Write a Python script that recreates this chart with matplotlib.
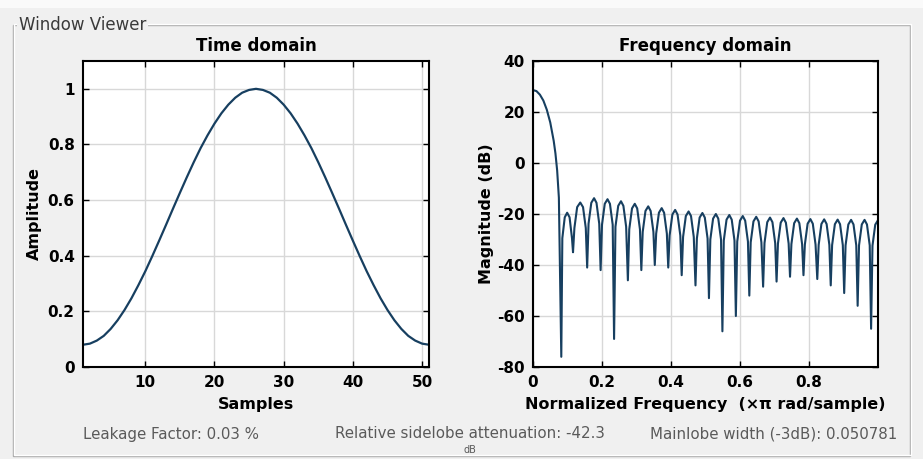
import matplotlib
matplotlib.use("Agg")
import matplotlib.pyplot as plt
from matplotlib.patches import Rectangle

plt.rcParams["axes.unicode_minus"] = False

# time domain: window amplitude per sample
samples = list(range(1, 52))
amplitude = [
    0.080, 0.084, 0.095, 0.112, 0.137, 0.168, 0.205, 0.247, 0.294, 0.344,
    0.398, 0.454, 0.511, 0.569, 0.626, 0.682, 0.736, 0.787, 0.833, 0.875,
    0.912, 0.943, 0.968, 0.986, 0.996, 1.000, 0.996, 0.986, 0.968, 0.943,
    0.912, 0.875, 0.833, 0.787, 0.736, 0.682, 0.626, 0.569, 0.511, 0.454,
    0.398, 0.344, 0.294, 0.247, 0.205, 0.168, 0.137, 0.112, 0.095, 0.084,
    0.080,
]

# frequency domain: main lobe, traced
main_f = [0, 0.01, 0.02, 0.03, 0.04, 0.05, 0.06, 0.065, 0.07, 0.075, 0.082]
main_db = [28.6, 28.2, 26.8, 24.5, 20.9, 15.9, 8.7, 3.8, -2.9, -13.6, -76]

# side lobes, traced one lobe per row (last value of each row is the null)
side_f = [
    0.085, 0.092, 0.099, 0.106, 0.113, 0.116,
    0.120, 0.128, 0.137, 0.145, 0.153, 0.157,
    0.161, 0.169, 0.177, 0.184, 0.192, 0.196,
    0.200, 0.208, 0.216, 0.223, 0.231, 0.235,
    0.239, 0.247, 0.255, 0.262, 0.270, 0.275,
    0.279, 0.287, 0.295, 0.302, 0.310, 0.314,
    0.318, 0.326, 0.334, 0.341, 0.349, 0.353,
    0.357, 0.365, 0.373, 0.380, 0.388, 0.392,
    0.396, 0.404, 0.412, 0.419, 0.427, 0.431,
    0.435, 0.443, 0.451, 0.458, 0.466, 0.471,
    0.475, 0.483, 0.491, 0.498, 0.506, 0.510,
    0.514, 0.522, 0.530, 0.537, 0.545, 0.549,
    0.553, 0.561, 0.569, 0.576, 0.584, 0.588,
    0.592, 0.600, 0.608, 0.615, 0.623, 0.627,
    0.631, 0.639, 0.647, 0.654, 0.662, 0.667,
    0.671, 0.679, 0.687, 0.694, 0.702, 0.706,
    0.710, 0.718, 0.726, 0.733, 0.741, 0.745,
    0.749, 0.757, 0.765, 0.772, 0.780, 0.784,
    0.788, 0.796, 0.804, 0.811, 0.819, 0.824,
    0.828, 0.836, 0.844, 0.851, 0.859, 0.863,
    0.867, 0.875, 0.883, 0.890, 0.898, 0.902,
    0.906, 0.914, 0.922, 0.929, 0.937, 0.941,
    0.945, 0.953, 0.961, 0.968, 0.976, 0.980,
    0.984, 0.992, 1.000,
]
side_db = [
    -29.5, -21.3, -19.5, -21.3, -29.5, -35,
    -25.5, -17.3, -15.5, -17.3, -25.5, -41,
    -23.8, -15.6, -13.8, -15.6, -23.8, -42,
    -24.2, -16.0, -14.2, -16.0, -24.2, -69,
    -25.0, -16.8, -15.0, -16.8, -25.0, -46,
    -26.0, -17.8, -16.0, -17.8, -26.0, -42,
    -27.0, -18.8, -17.0, -18.8, -27.0, -40,
    -27.7, -19.5, -17.7, -19.5, -27.7, -41,
    -28.4, -20.2, -18.4, -20.2, -28.4, -44,
    -29.0, -20.8, -19.0, -20.8, -29.0, -48,
    -29.6, -21.4, -19.6, -21.4, -29.6, -53,
    -30.0, -21.8, -20.0, -21.8, -30.0, -66,
    -30.4, -22.2, -20.4, -22.2, -30.4, -60,
    -30.8, -22.6, -20.8, -22.6, -30.8, -52,
    -31.1, -22.9, -21.1, -22.9, -31.1, -48.5,
    -31.4, -23.2, -21.4, -23.2, -31.4, -46.5,
    -31.6, -23.4, -21.6, -23.4, -31.6, -44.6,
    -31.8, -23.6, -21.8, -23.6, -31.8, -44,
    -32.0, -23.8, -22.0, -23.8, -32.0, -45.5,
    -32.1, -23.9, -22.1, -23.9, -32.1, -48,
    -32.2, -24.0, -22.2, -24.0, -32.2, -51,
    -32.3, -24.1, -22.3, -24.1, -32.3, -56,
    -32.3, -24.1, -22.3, -24.1, -32.3, -65,
    -32.4, -24.2, -22.4,
]

amp_ticks = [0, 0.2, 0.4, 0.6, 0.8, 1]
amp_labels = ["0", "0.2", "0.4", "0.6", "0.8", "1"]
sample_ticks = [10, 20, 30, 40, 50]
freq_ticks = [0, 0.2, 0.4, 0.6, 0.8]
db_ticks = [-80, -60, -40, -20, 0, 20, 40]

leakage = "Leakage Factor: 0.03 %"
sidelobe = "Relative sidelobe attenuation: -42.3"
mainlobe = "Mainlobe width (-3dB): 0.050781"

W, H = 923, 459
bg = "#f0f0f0"
line_color = "#173f60"

fig = plt.figure(figsize=(W / 100, H / 100), dpi=100, facecolor=bg)


def fx(px):
    return px / W


def fy(py):
    return 1 - py / H


# light strip on top, like the window edge
fig.patches.append(Rectangle((0, fy(8)), 1, 8 / H, transform=fig.transFigure,
                             facecolor="#fafafa", edgecolor="none"))

# group box frame (etched look: gray line + white line)
for off, col in [(0, "#a8a8a8"), (1, "white")]:
    fig.patches.append(Rectangle((fx(13 + off), fy(456 - off)),
                                 fx(897), (456 - 25) / H,
                                 transform=fig.transFigure, fill=False,
                                 edgecolor=col, linewidth=1))
fig.text(fx(19), fy(25), "Window Viewer", fontsize=12, color="#3a3a3a",
         va="center", ha="left",
         bbox=dict(facecolor=bg, edgecolor="none", pad=1.5))


def style(ax):
    ax.set_facecolor("white")
    ax.grid(True, color="#d8d8d8", linewidth=1)
    ax.set_axisbelow(True)
    for s in ax.spines.values():
        s.set_linewidth(1.5)
        s.set_color("black")
    ax.tick_params(direction="in", length=4, width=1, top=True, right=True,
                   labelsize=11, pad=6)
    for lab in ax.get_xticklabels() + ax.get_yticklabels():
        lab.set_fontweight("bold")


ax1 = fig.add_axes([fx(83), 92 / H, 346 / W, 306 / H])
ax1.plot(samples, amplitude, color=line_color, linewidth=1.6)
ax1.set_xlim(1, 51)
ax1.set_ylim(0, 1.1)
ax1.set_xticks(sample_ticks)
ax1.set_yticks(amp_ticks)
ax1.set_yticklabels(amp_labels)
ax1.set_title("Time domain", fontsize=12, fontweight="bold", pad=7)
ax1.set_xlabel("Samples", fontsize=11.5, fontweight="bold", labelpad=5)
ax1.set_ylabel("Amplitude", fontsize=11.5, fontweight="bold", labelpad=4)
style(ax1)

ax2 = fig.add_axes([fx(533), 92 / H, 345 / W, 306 / H])
ax2.plot(main_f + side_f, main_db + side_db, color=line_color, linewidth=1.5)
ax2.set_xlim(0, 1)
ax2.set_ylim(-80, 40)
ax2.set_xticks(freq_ticks)
ax2.set_xticklabels(["0", "0.2", "0.4", "0.6", "0.8"])
ax2.set_yticks(db_ticks)
ax2.set_title("Frequency domain", fontsize=12, fontweight="bold", pad=7)
ax2.set_xlabel("Normalized Frequency  (\u00d7\u03c0 rad/sample)",
               fontsize=11.5, fontweight="bold", labelpad=5)
ax2.set_ylabel("Magnitude (dB)", fontsize=11.5, fontweight="bold", labelpad=2)
style(ax2)

# measurement texts under the plots
txt = dict(fontsize=10.8, color="#5a5a5a", va="center")
fig.text(fx(171), fy(434), leakage, ha="center", **txt)
fig.text(fx(470), fy(434), sidelobe, ha="center", **txt)
fig.text(fx(470), fy(450), "dB", ha="center", fontsize=7, color="#5a5a5a",
         va="center")
fig.text(fx(774), fy(434), mainlobe, ha="center", **txt)

fig.savefig("out.png", dpi=100, facecolor=bg)
